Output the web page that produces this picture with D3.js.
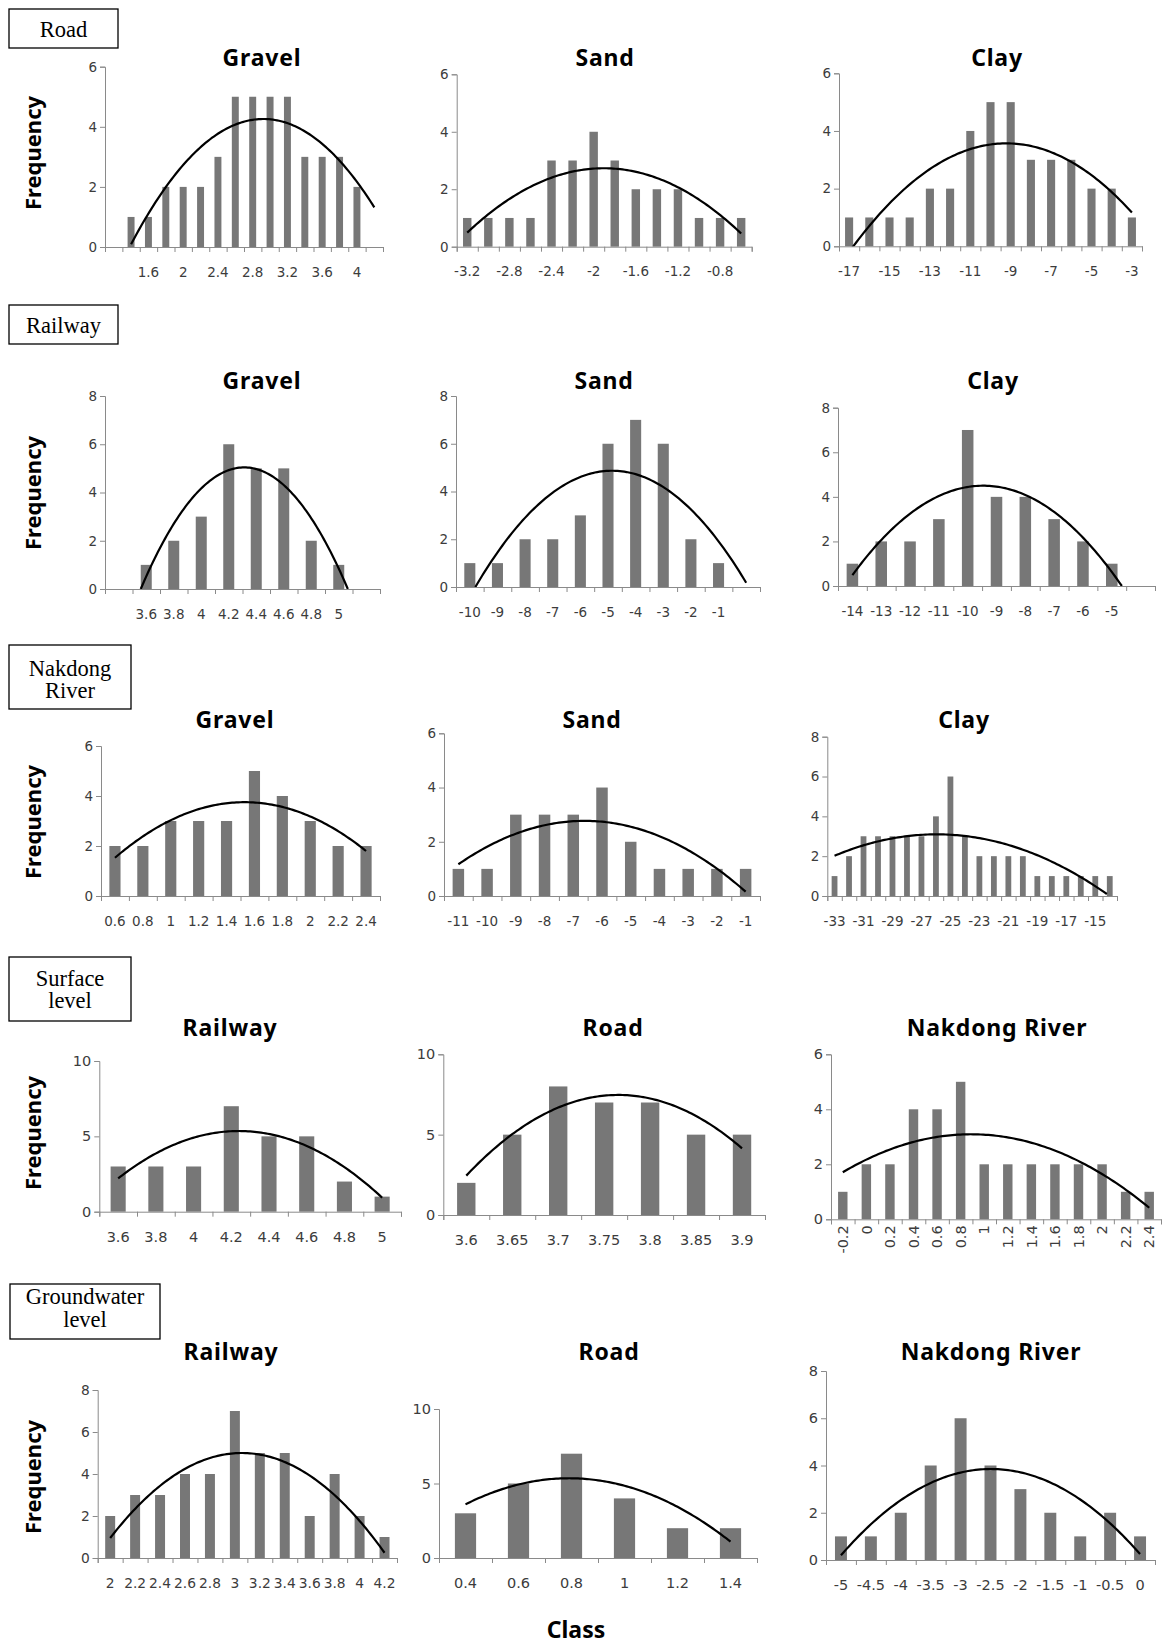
<!DOCTYPE html>
<html>
<head>
<meta charset="utf-8">
<script src="https://cdn.jsdelivr.net/npm/d3@7"></script>
<style>
  body { margin: 0; background: #fff; }
  svg text { font-family: "Noto Sans", "DejaVu Sans", sans-serif; }
  svg .tick text { font-family: "DejaVu Sans", "Noto Sans", sans-serif; }
</style>
</head>
<body>
<svg id="fig" width="1165" height="1647"></svg>
<script>
// ---------- Road ----------
const roadGravelClass = [1.2, 1.4, 1.6, 1.8, 2.0, 2.2, 2.4, 2.6, 2.8, 3.0, 3.2, 3.4, 3.6, 3.8, 4.0, 4.2];
const roadGravelFreq  = [0, 1, 1, 2, 2, 2, 3, 5, 5, 5, 5, 3, 3, 3, 2, 0];
const roadGravelTicks = [1.6, 2, 2.4, 2.8, 3.2, 3.6, 4];
const roadGravelTrend = [[1, 0.09], [8.62, 4.26], [15, 1.32]];

const roadSandClass = [-3.2, -3.0, -2.8, -2.6, -2.4, -2.2, -2.0, -1.8, -1.6, -1.4, -1.2, -1.0, -0.8, -0.6];
const roadSandFreq  = [1, 1, 1, 1, 3, 3, 4, 3, 2, 2, 2, 1, 1, 1];
const roadSandTicks = [-3.2, -2.8, -2.4, -2, -1.6, -1.2, -0.8];
const roadSandTrend = [[0, 0.49], [6.6, 2.73], [13, 0.46]];

const roadClayClass = [-17, -16, -15, -14, -13, -12, -11, -10, -9, -8, -7, -6, -5, -4, -3];
const roadClayFreq  = [1, 1, 1, 1, 2, 2, 4, 5, 5, 3, 3, 3, 2, 2, 1];
const roadClayTicks = [-17, -15, -13, -11, -9, -7, -5, -3];
const roadClayTrend = [[0, -0.2], [7.79, 3.57], [14, 1.17]];

// ---------- Railway ----------
const railGravelClass = [3.4, 3.6, 3.8, 4.0, 4.2, 4.4, 4.6, 4.8, 5.0, 5.2];
const railGravelFreq  = [0, 1, 2, 3, 6, 5, 5, 2, 1, 0];
const railGravelTicks = [3.6, 3.8, 4, 4.2, 4.4, 4.6, 4.8, 5];
const railGravelTrend = [[0.8, 0], [4.57, 5.04], [8.33, 0]];

const railSandClass = [-10, -9, -8, -7, -6, -5, -4, -3, -2, -1, 0];
const railSandFreq  = [1, 1, 2, 2, 3, 6, 7, 6, 2, 1, 0];
const railSandTicks = [-10, -9, -8, -7, -6, -5, -4, -3, -2, -1];
const railSandTrend = [[0.2, 0], [5.15, 4.87], [10, 0.18]];

const railClayClass = [-14, -13, -12, -11, -10, -9, -8, -7, -6, -5, -4];
const railClayFreq  = [1, 2, 2, 3, 7, 4, 4, 3, 2, 1, 0];
const railClayTicks = [-14, -13, -12, -11, -10, -9, -8, -7, -6, -5];
const railClayTrend = [[0, 0.49], [4.53, 4.5], [9.35, 0]];

// ---------- Nakdong River ----------
const nakGravelClass = [0.6, 0.8, 1.0, 1.2, 1.4, 1.6, 1.8, 2.0, 2.2, 2.4];
const nakGravelFreq  = [2, 2, 3, 3, 3, 5, 4, 3, 2, 2];
const nakGravelTicks = [0.6, 0.8, 1, 1.2, 1.4, 1.6, 1.8, 2, 2.2, 2.4];
const nakGravelTrend = [[0, 1.53], [4.78, 3.75], [9, 1.8]];

const nakSandClass = [-11, -10, -9, -8, -7, -6, -5, -4, -3, -2, -1];
const nakSandFreq  = [1, 1, 3, 3, 3, 4, 2, 1, 1, 1, 1];
const nakSandTicks = [-11, -10, -9, -8, -7, -6, -5, -4, -3, -2, -1];
const nakSandTrend = [[0, 1.17], [4.47, 2.77], [10, 0.16]];

const nakClayClass = [-33, -32, -31, -30, -29, -28, -27, -26, -25, -24, -23, -22, -21, -20, -19, -18, -17, -16, -15, -14];
const nakClayFreq  = [1, 2, 3, 3, 3, 3, 3, 4, 6, 3, 2, 2, 2, 2, 1, 1, 1, 1, 1, 1];
const nakClayTicks = [-33, -31, -29, -27, -25, -23, -21, -19, -17, -15];
const nakClayTrend = [[0, 2.02], [9.36, 2.98], [18.8, 0.1]];

// ---------- Surface level ----------
const surfRailClass = [3.6, 3.8, 4.0, 4.2, 4.4, 4.6, 4.8, 5.0];
const surfRailFreq  = [3, 3, 3, 7, 5, 5, 2, 1];
const surfRailTicks = [3.6, 3.8, 4, 4.2, 4.4, 4.6, 4.8, 5];
const surfRailTrend = [[0, 2.21], [3.31, 5.35], [7, 0.93]];

const surfRoadClass = [3.6, 3.65, 3.7, 3.75, 3.8, 3.85, 3.9];
const surfRoadFreq  = [2, 5, 8, 7, 7, 5, 5];
const surfRoadTicks = [3.6, 3.65, 3.7, 3.75, 3.8, 3.85, 3.9];
const surfRoadTrend = [[0, 2.45], [3.34, 7.47], [6, 4.15]];

const surfNakClass = [-0.2, 0, 0.2, 0.4, 0.6, 0.8, 1.0, 1.2, 1.4, 1.6, 1.8, 2.0, 2.2, 2.4];
const surfNakFreq  = [1, 2, 2, 4, 4, 5, 2, 2, 2, 2, 2, 2, 1, 1];
const surfNakTicks = [-0.2, 0, 0.2, 0.4, 0.6, 0.8, 1, 1.2, 1.4, 1.6, 1.8, 2, 2.2, 2.4];
const surfNakTrend = [[0, 1.71], [5.64, 3.09], [13, 0.42]];

// ---------- Groundwater level ----------
const gwRailClass = [2.0, 2.2, 2.4, 2.6, 2.8, 3.0, 3.2, 3.4, 3.6, 3.8, 4.0, 4.2];
const gwRailFreq  = [2, 3, 3, 4, 4, 7, 5, 5, 2, 4, 2, 1];
const gwRailTicks = [2, 2.2, 2.4, 2.6, 2.8, 3, 3.2, 3.4, 3.6, 3.8, 4, 4.2];
const gwRailTrend = [[0, 0.95], [5.34, 5.0], [11, 0.25]];

const gwRoadClass = [0.4, 0.6, 0.8, 1.0, 1.2, 1.4];
const gwRoadFreq  = [3, 5, 7, 4, 2, 2];
const gwRoadTicks = [0.4, 0.6, 0.8, 1, 1.2, 1.4];
const gwRoadTrend = [[0, 3.6], [2, 5.35], [5, 1.1]];

const gwNakClass = [-5, -4.5, -4, -3.5, -3, -2.5, -2, -1.5, -1, -0.5, 0];
const gwNakFreq  = [1, 1, 2, 4, 6, 4, 3, 2, 1, 2, 1];
const gwNakTicks = [-5, -4.5, -4, -3.5, -3, -2.5, -2, -1.5, -1, -0.5, 0];
const gwNakTrend = [[0, 0.2], [5.1, 3.85], [10, 0.25]];

// ---------- panel layout ----------
const panels = [
  { title: "Gravel", cls: roadGravelClass, freq: roadGravelFreq, ticks: roadGravelTicks, trend: roadGravelTrend, yMax: 6, yStep: 2,
    box: { x0: 105, x1: 383, top: 66.7, base: 247, tx: 262, ty: 66, fs: 13.5 } },
  { title: "Sand", cls: roadSandClass, freq: roadSandFreq, ticks: roadSandTicks, trend: roadSandTrend, yMax: 6, yStep: 2,
    box: { x0: 456.7, x1: 751.7, top: 74.3, base: 246.7, tx: 605, ty: 66, fs: 13.5 } },
  { title: "Clay", cls: roadClayClass, freq: roadClayFreq, ticks: roadClayTicks, trend: roadClayTrend, yMax: 6, yStep: 2,
    box: { x0: 839, x1: 1142, top: 73.3, base: 246.3, tx: 997, ty: 66, fs: 13.5 } },

  { title: "Gravel", cls: railGravelClass, freq: railGravelFreq, ticks: railGravelTicks, trend: railGravelTrend, yMax: 8, yStep: 2,
    box: { x0: 105, x1: 380, top: 396, base: 589, tx: 262, ty: 389, fs: 13.5 } },
  { title: "Sand", cls: railSandClass, freq: railSandFreq, ticks: railSandTicks, trend: railSandTrend, yMax: 8, yStep: 2,
    box: { x0: 456, x1: 760, top: 396, base: 587, tx: 604, ty: 389, fs: 13.5 } },
  { title: "Clay", cls: railClayClass, freq: railClayFreq, ticks: railClayTicks, trend: railClayTrend, yMax: 8, yStep: 2,
    box: { x0: 838, x1: 1155, top: 407.7, base: 586, tx: 993, ty: 389, fs: 13.5 } },

  { title: "Gravel", cls: nakGravelClass, freq: nakGravelFreq, ticks: nakGravelTicks, trend: nakGravelTrend, yMax: 6, yStep: 2,
    box: { x0: 101, x1: 380, top: 746, base: 896, tx: 235, ty: 728, fs: 13.5 } },
  { title: "Sand", cls: nakSandClass, freq: nakSandFreq, ticks: nakSandTicks, trend: nakSandTrend, yMax: 6, yStep: 2,
    box: { x0: 444, x1: 760, top: 733.3, base: 896, tx: 592, ty: 728, fs: 13.5 } },
  { title: "Clay", cls: nakClayClass, freq: nakClayFreq, ticks: nakClayTicks, trend: nakClayTrend, yMax: 8, yStep: 2,
    box: { x0: 827.3, x1: 1117, top: 736.7, base: 896, tx: 964, ty: 728, fs: 13.5 } },

  { title: "Railway", cls: surfRailClass, freq: surfRailFreq, ticks: surfRailTicks, trend: surfRailTrend, yMax: 10, yStep: 5,
    box: { x0: 99.3, x1: 401, top: 1061, base: 1211.7, tx: 230, ty: 1036, fs: 14.5 } },
  { title: "Road", cls: surfRoadClass, freq: surfRoadFreq, ticks: surfRoadTicks, trend: surfRoadTrend, yMax: 10, yStep: 5,
    box: { x0: 443.3, x1: 765, top: 1054.3, base: 1215, tx: 613, ty: 1036, fs: 14.5 } },
  { title: "Nakdong  River", cls: surfNakClass, freq: surfNakFreq, ticks: surfNakTicks, trend: surfNakTrend, yMax: 6, yStep: 2, rotate: true,
    box: { x0: 831, x1: 1161, top: 1054.3, base: 1219.3, tx: 997, ty: 1036, fs: 14.5 } },

  { title: "Railway", cls: gwRailClass, freq: gwRailFreq, ticks: gwRailTicks, trend: gwRailTrend, yMax: 8, yStep: 2,
    box: { x0: 97.7, x1: 397, top: 1390, base: 1558, tx: 231, ty: 1360, fs: 13.8 } },
  { title: "Road", cls: gwRoadClass, freq: gwRoadFreq, ticks: gwRoadTicks, trend: gwRoadTrend, yMax: 10, yStep: 5,
    box: { x0: 439, x1: 757, top: 1409, base: 1558, tx: 609, ty: 1360, fs: 14.5 } },
  { title: "Nakdong  River", cls: gwNakClass, freq: gwNakFreq, ticks: gwNakTicks, trend: gwNakTrend, yMax: 8, yStep: 2,
    box: { x0: 826, x1: 1155, top: 1371, base: 1560, tx: 991, ty: 1360, fs: 14.5 } }
];

const rowHeads = [
  { lines: ["Road"], x: 9, y: 9, w: 109, h: 39, cx: 63.5, base: [36.5] },
  { lines: ["Railway"], x: 9, y: 305, w: 109, h: 39, cx: 63.5, base: [333] },
  { lines: ["Nakdong", "River"], x: 9, y: 645, w: 122, h: 64, cx: 70, base: [676, 698] },
  { lines: ["Surface", "level"], x: 9, y: 957, w: 122, h: 64, cx: 70, base: [986, 1008] },
  { lines: ["Groundwater", "level"], x: 10, y: 1284, w: 150, h: 55, cx: 85, base: [1304, 1327] }
];
const freqLabelY = [153, 493, 822, 1133, 1477];

const BAR = "#777777", AXIS = "#8a8a8a", TICKTXT = "#3c3c3c";
const svg = d3.select("#fig");
const fmt = v => String(+(+v).toFixed(2));

function drawPanel(p, k) {
  const b = p.box, n = p.cls.length;
  const g = svg.append("g");
  const band = d3.scaleBand().domain(d3.range(n)).range([b.x0, b.x1]).paddingInner(0.6).paddingOuter(0.3);
  const slot = d3.scaleLinear().domain([0, n]).range([b.x0, b.x1]);
  const y = d3.scaleLinear().domain([0, p.yMax]).range([b.base, b.top]);

  // columns
  g.selectAll("rect.bar").data(p.freq).join("rect").attr("class", "bar")
    .attr("x", (d, i) => band(i)).attr("width", band.bandwidth())
    .attr("y", d => y(d)).attr("height", d => y(0) - y(d))
    .attr("fill", BAR);

  // value axis
  const ya = g.append("g").attr("transform", `translate(${b.x0},0)`)
    .call(d3.axisLeft(y).tickValues(d3.range(0, p.yMax + 0.001, p.yStep)).tickSize(5).tickPadding(3).tickFormat(d3.format("d")));

  // category axis: tick marks between classes
  const xt = g.append("g").attr("transform", `translate(0,${b.base})`)
    .call(d3.axisBottom(slot).tickValues(d3.range(n + 1)).tickSize(5).tickFormat(""));

  // category labels
  const shown = new Set(p.ticks.map(fmt));
  const xl = g.append("g").attr("transform", `translate(0,${b.base})`)
    .call(d3.axisBottom(band).tickSize(0).tickPadding(p.rotate ? 0 : 20)
      .tickFormat(i => shown.has(fmt(p.cls[i])) ? fmt(p.cls[i]) : ""));
  xl.select(".domain").remove();
  if (p.rotate) {
    xl.selectAll("text").attr("transform", "rotate(-90)").attr("text-anchor", "end")
      .attr("x", -6).attr("y", 0).attr("dy", "0.36em");
  }

  [ya, xt, xl].forEach(a => {
    a.attr("font-family", null).attr("font-size", null);
    a.selectAll(".domain, line").attr("stroke", AXIS).attr("stroke-width", 1);
    a.selectAll("text").attr("fill", TICKTXT).style("font-size", b.fs + "px");
  });

  // second-order polynomial trend line through three anchor points
  const [[a0, v0], [a1, v1], [a2, v2]] = p.trend;
  const poly = t =>
    v0 * (t - a1) * (t - a2) / ((a0 - a1) * (a0 - a2)) +
    v1 * (t - a0) * (t - a2) / ((a1 - a0) * (a1 - a2)) +
    v2 * (t - a0) * (t - a1) / ((a2 - a0) * (a2 - a1));
  const ts = d3.range(0, 121).map(j => a0 + (a2 - a0) * j / 120);
  const cid = "clip" + k;
  g.append("clipPath").attr("id", cid).append("rect")
    .attr("x", b.x0).attr("y", b.top).attr("width", b.x1 - b.x0).attr("height", b.base - b.top);
  g.append("path").datum(ts)
    .attr("d", d3.line().x(t => slot(t + 0.5)).y(t => y(poly(t))).curve(d3.curveLinear))
    .attr("fill", "none").attr("stroke", "#000").attr("stroke-width", 2.2)
    .attr("clip-path", `url(#${cid})`);

  // panel title
  g.append("text").attr("x", b.tx).attr("y", b.ty).attr("text-anchor", "middle")
    .style("font-size", "23px").style("font-weight", "bold").style("letter-spacing", "0.8px")
    .attr("fill", "#000").text(p.title);
}

panels.forEach(drawPanel);

// row headings
rowHeads.forEach(r => {
  const g = svg.append("g");
  g.append("rect").attr("x", r.x).attr("y", r.y).attr("width", r.w).attr("height", r.h)
    .attr("fill", "#fff").attr("stroke", "#000").attr("stroke-width", 1.3);
  r.lines.forEach((t, i) => {
    g.append("text").attr("x", r.cx).attr("y", r.base[i]).attr("text-anchor", "middle")
      .style("font-family", "'Liberation Serif', 'Times New Roman', serif").style("font-size", "22.5px")
      .attr("fill", "#000").text(t);
  });
});

// shared axis titles
freqLabelY.forEach(cy => {
  svg.append("text").attr("transform", `translate(41,${cy}) rotate(-90)`).attr("text-anchor", "middle")
    .style("font-size", "22px").style("font-weight", "bold").attr("fill", "#000").text("Frequency");
});
svg.append("text").attr("x", 576).attr("y", 1638).attr("text-anchor", "middle")
  .style("font-size", "23px").style("font-weight", "bold").attr("fill", "#000").text("Class");
</script>
</body>
</html>
